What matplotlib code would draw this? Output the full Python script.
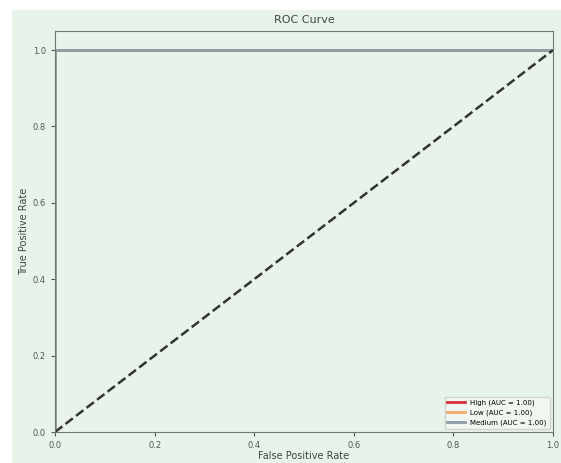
import matplotlib
matplotlib.use("Agg")
import matplotlib.pyplot as plt
from matplotlib.patches import Rectangle

classes = ["High", "Low", "Medium"]
aucs = [1.00, 1.00, 1.00]
fpr = [0.0, 0.0, 1.0]
tpr = [0.0, 1.0, 1.0]
colors = ["#d62f3a", "#f0a868", "#8e9ca6"]
xticks = [0.0, 0.2, 0.4, 0.6, 0.8, 1.0]
yticks = [0.0, 0.2, 0.4, 0.6, 0.8, 1.0]

W, H = 561, 463
fig = plt.figure(figsize=(W / 100, H / 100), dpi=100, facecolor="white")
bg = "#e8f3ea"
fig.patches.append(Rectangle((12 / W, 0), 1, 1 - 10 / H, transform=fig.transFigure,
                             facecolor=bg, edgecolor="none", zorder=-10))
ax = fig.add_axes([55 / W, 1 - 432 / H, (553 - 55) / W, (432 - 31) / H])
ax.set_facecolor(bg)

for c, a, col in zip(classes, aucs, colors):
    ax.plot(fpr, tpr, color=col, lw=2, label=f"{c} (AUC = {a:.2f})")
ax.plot([0, 1], [0, 1], color="#333333", lw=1.8, ls="--")

ax.set_xlim(0, 1)
ax.set_ylim(0, 1.05)
ax.set_xticks(xticks)
ax.set_yticks(yticks)
ax.set_xticklabels([f"{t:.1f}" for t in xticks])
ax.set_yticklabels([f"{t:.1f}" for t in yticks])
ax.tick_params(labelsize=6, colors="#555555", length=3)
for s in ax.spines.values():
    s.set_color("#777777")
ax.set_xlabel("False Positive Rate", fontsize=7, color="#444444", labelpad=1)
ax.set_ylabel("True Positive Rate", fontsize=7, color="#444444", labelpad=3)
ax.set_title("ROC Curve", fontsize=8, color="#444444", pad=6)
leg = ax.legend(loc="lower right", fontsize=5, frameon=True, facecolor="#f4f8f4",
                edgecolor="#cccccc", handlelength=2.5)
fig.savefig("out.png", dpi=100, facecolor=fig.get_facecolor())
